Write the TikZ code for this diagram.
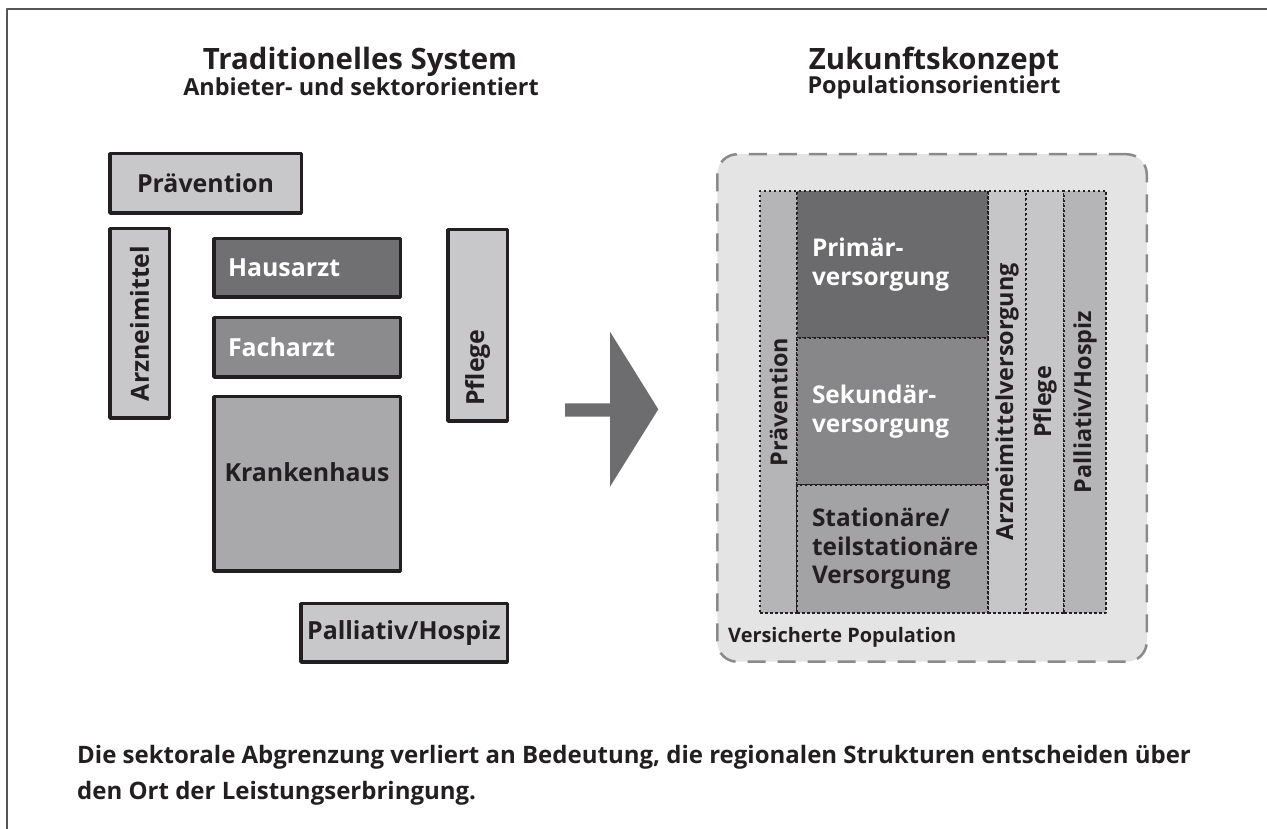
\documentclass[tikz,border=0pt]{standalone}
\usepackage{fontspec}
\setmainfont{Open Sans}
\definecolor{ink}{HTML}{231F20}
\definecolor{framegray}{HTML}{555555}
\definecolor{lightbox}{HTML}{C8C8CA}
\definecolor{darkbox}{HTML}{707072}
\definecolor{midbox}{HTML}{8B8B8D}
\definecolor{khbox}{HTML}{A9A9AB}
\definecolor{arrowgray}{HTML}{6D6D6F}
\definecolor{popfill}{HTML}{E4E4E4}
\definecolor{popline}{HTML}{8A8A8A}
\definecolor{sidecol}{HTML}{B5B5B7}
\definecolor{lightcol}{HTML}{C6C6C8}
\definecolor{primcol}{HTML}{6B6B6D}
\definecolor{sekcol}{HTML}{878789}
\definecolor{statcol}{HTML}{A3A3A5}
\newcommand{\titlefont}{\fontsize{29.5}{31}\selectfont\bfseries}
\newcommand{\subfont}{\fontsize{23.5}{25}\selectfont\bfseries}
\newcommand{\boxfont}{\fontsize{25}{27}\selectfont\bfseries}
\newcommand{\cellfont}{\fontsize{24.5}{28.5}\selectfont\bfseries}
\newcommand{\vertfont}{\fontsize{23.5}{25}\selectfont\bfseries}
\newcommand{\popfont}{\fontsize{20}{22}\selectfont\bfseries}
\newcommand{\capfont}{\fontsize{24.1}{36}\selectfont\bfseries}
\begin{document}
\begin{tikzpicture}[>=latex,line join=bevel,
  sector/.style={draw=ink,line width=3.5bp,inner sep=0pt,font=\boxfont,text=ink},
  leftsector/.style={sector,text=white,inner xsep=14.25bp,text width=158bp,align=left},
  inlabel/.style={inner sep=0pt,font=\boxfont,text=ink},
  cell/.style={draw=ink,line width=2.5bp,dash pattern=on 2.5bp off 2.5bp,inner sep=0pt,font=\vertfont,text=ink},
  midcell/.style={cell,font=\cellfont,inner xsep=15bp,text width=161bp,align=left,minimum width=191bp},
  heading/.style={font=\titlefont,text=ink},
  subheading/.style={font=\subfont,text=ink}]
\useasboundingbox (0bp,0bp) rectangle (1267bp,829bp);
%% frame
\draw [framegray,line width=2bp] (7bp,0bp) -- (7bp,820bp) -- (1267bp,820bp);
%% headings
\node (lefttitle) at (360bp,767bp) [heading] {Traditionelles System};
  \node (leftsub) at (361bp,742bp) [subheading] {Anbieter- und sektororientiert};
  \node (righttitle) at (934bp,767bp) [heading] {Zukunftskonzept};
  \node (rightsub) at (934bp,742bp) [subheading] {Populationsorientiert};
%% traditionelles system
\node (praev) at (205.5bp,645.5bp) [sector,fill=lightbox,minimum width=191.5bp,minimum height=59.5bp] {Prävention};
  \node (arznei) at (139.5bp,505.5bp) [sector,fill=lightbox,minimum width=59.5bp,minimum height=189.5bp] {\rotatebox{90}{Arzneimittel}};
  \node (haus) at (307bp,561bp) [leftsector,fill=darkbox,minimum height=58.5bp] {Hausarzt};
  \node (fach) at (307bp,481.5bp) [leftsector,fill=midbox,minimum height=59.5bp] {Facharzt};
  \node (kh) at (307bp,345bp) [sector,fill=khbox,minimum width=186.5bp,minimum height=174.5bp,label={[inlabel,yshift=12bp]center:Krankenhaus}] {};
  \node (pflege) at (477.5bp,503.5bp) [sector,fill=lightbox,minimum width=59.5bp,minimum height=191.5bp,label={[inlabel,yshift=-42bp]center:\rotatebox{90}{Pflege}}] {};
  \node (palli) at (404bp,196bp) [sector,fill=lightbox,minimum width=206.5bp,minimum height=58.5bp] {Palliativ/Hospiz};
%% pfeil
\fill [arrowgray] (565bp,412.3bp) -- (610bp,412.3bp) -- (610bp,342.3bp) -- (658.3bp,419.7bp) -- (610bp,497.3bp) -- (610bp,425.7bp) -- (565bp,425.7bp) -- cycle;
%% zukunftskonzept
\node (pop) at (932bp,421bp) [draw=popline,fill=popfill,line width=2.5bp,dash pattern=on 18bp off 12bp,rounded corners=20bp,minimum width=429.5bp,minimum height=507.5bp] {};
  \node (poplabel) at (728bp,192bp) [anchor=west,inner sep=0pt,font=\popfont,text=ink] {Versicherte Population};
  \node (praevcol) at (778.5bp,427bp) [cell,fill=sidecol,minimum width=37bp,minimum height=422bp] {\rotatebox{90}{Prävention}};
  \node (arzcol) at (1007bp,427bp) [cell,fill=lightcol,minimum width=38bp,minimum height=422bp] {\rotatebox{90}{Arzneimittelversorgung}};
  \node (pflcol) at (1045bp,427bp) [cell,fill=lightcol,minimum width=38bp,minimum height=422bp] {\rotatebox{90}{Pflege}};
  \node (palcol) at (1085bp,427bp) [cell,fill=sidecol,minimum width=42bp,minimum height=422bp] {\rotatebox{90}{Palliativ/Hospiz}};
  \node (prim) at (892.5bp,564.5bp) [midcell,fill=primcol,text=white,minimum height=147bp] {Primär-\\versorgung};
  \node (sek) at (892.5bp,417.5bp) [midcell,fill=sekcol,text=white,minimum height=147bp] {Sekundär-\\versorgung};
  \node (stat) at (892.5bp,280bp) [midcell,fill=statcol,minimum height=128bp] {Stationäre/\\teilstationäre\\Versorgung};
%% fazit
\node (caption) at (77bp,54bp) [anchor=west,align=left,inner sep=0pt,font=\capfont,text=ink] {Die sektorale Abgrenzung verliert an Bedeutung, die regionalen Strukturen entscheiden über\\den Ort der Leistungserbringung.};
%
\end{tikzpicture}
\end{document}
